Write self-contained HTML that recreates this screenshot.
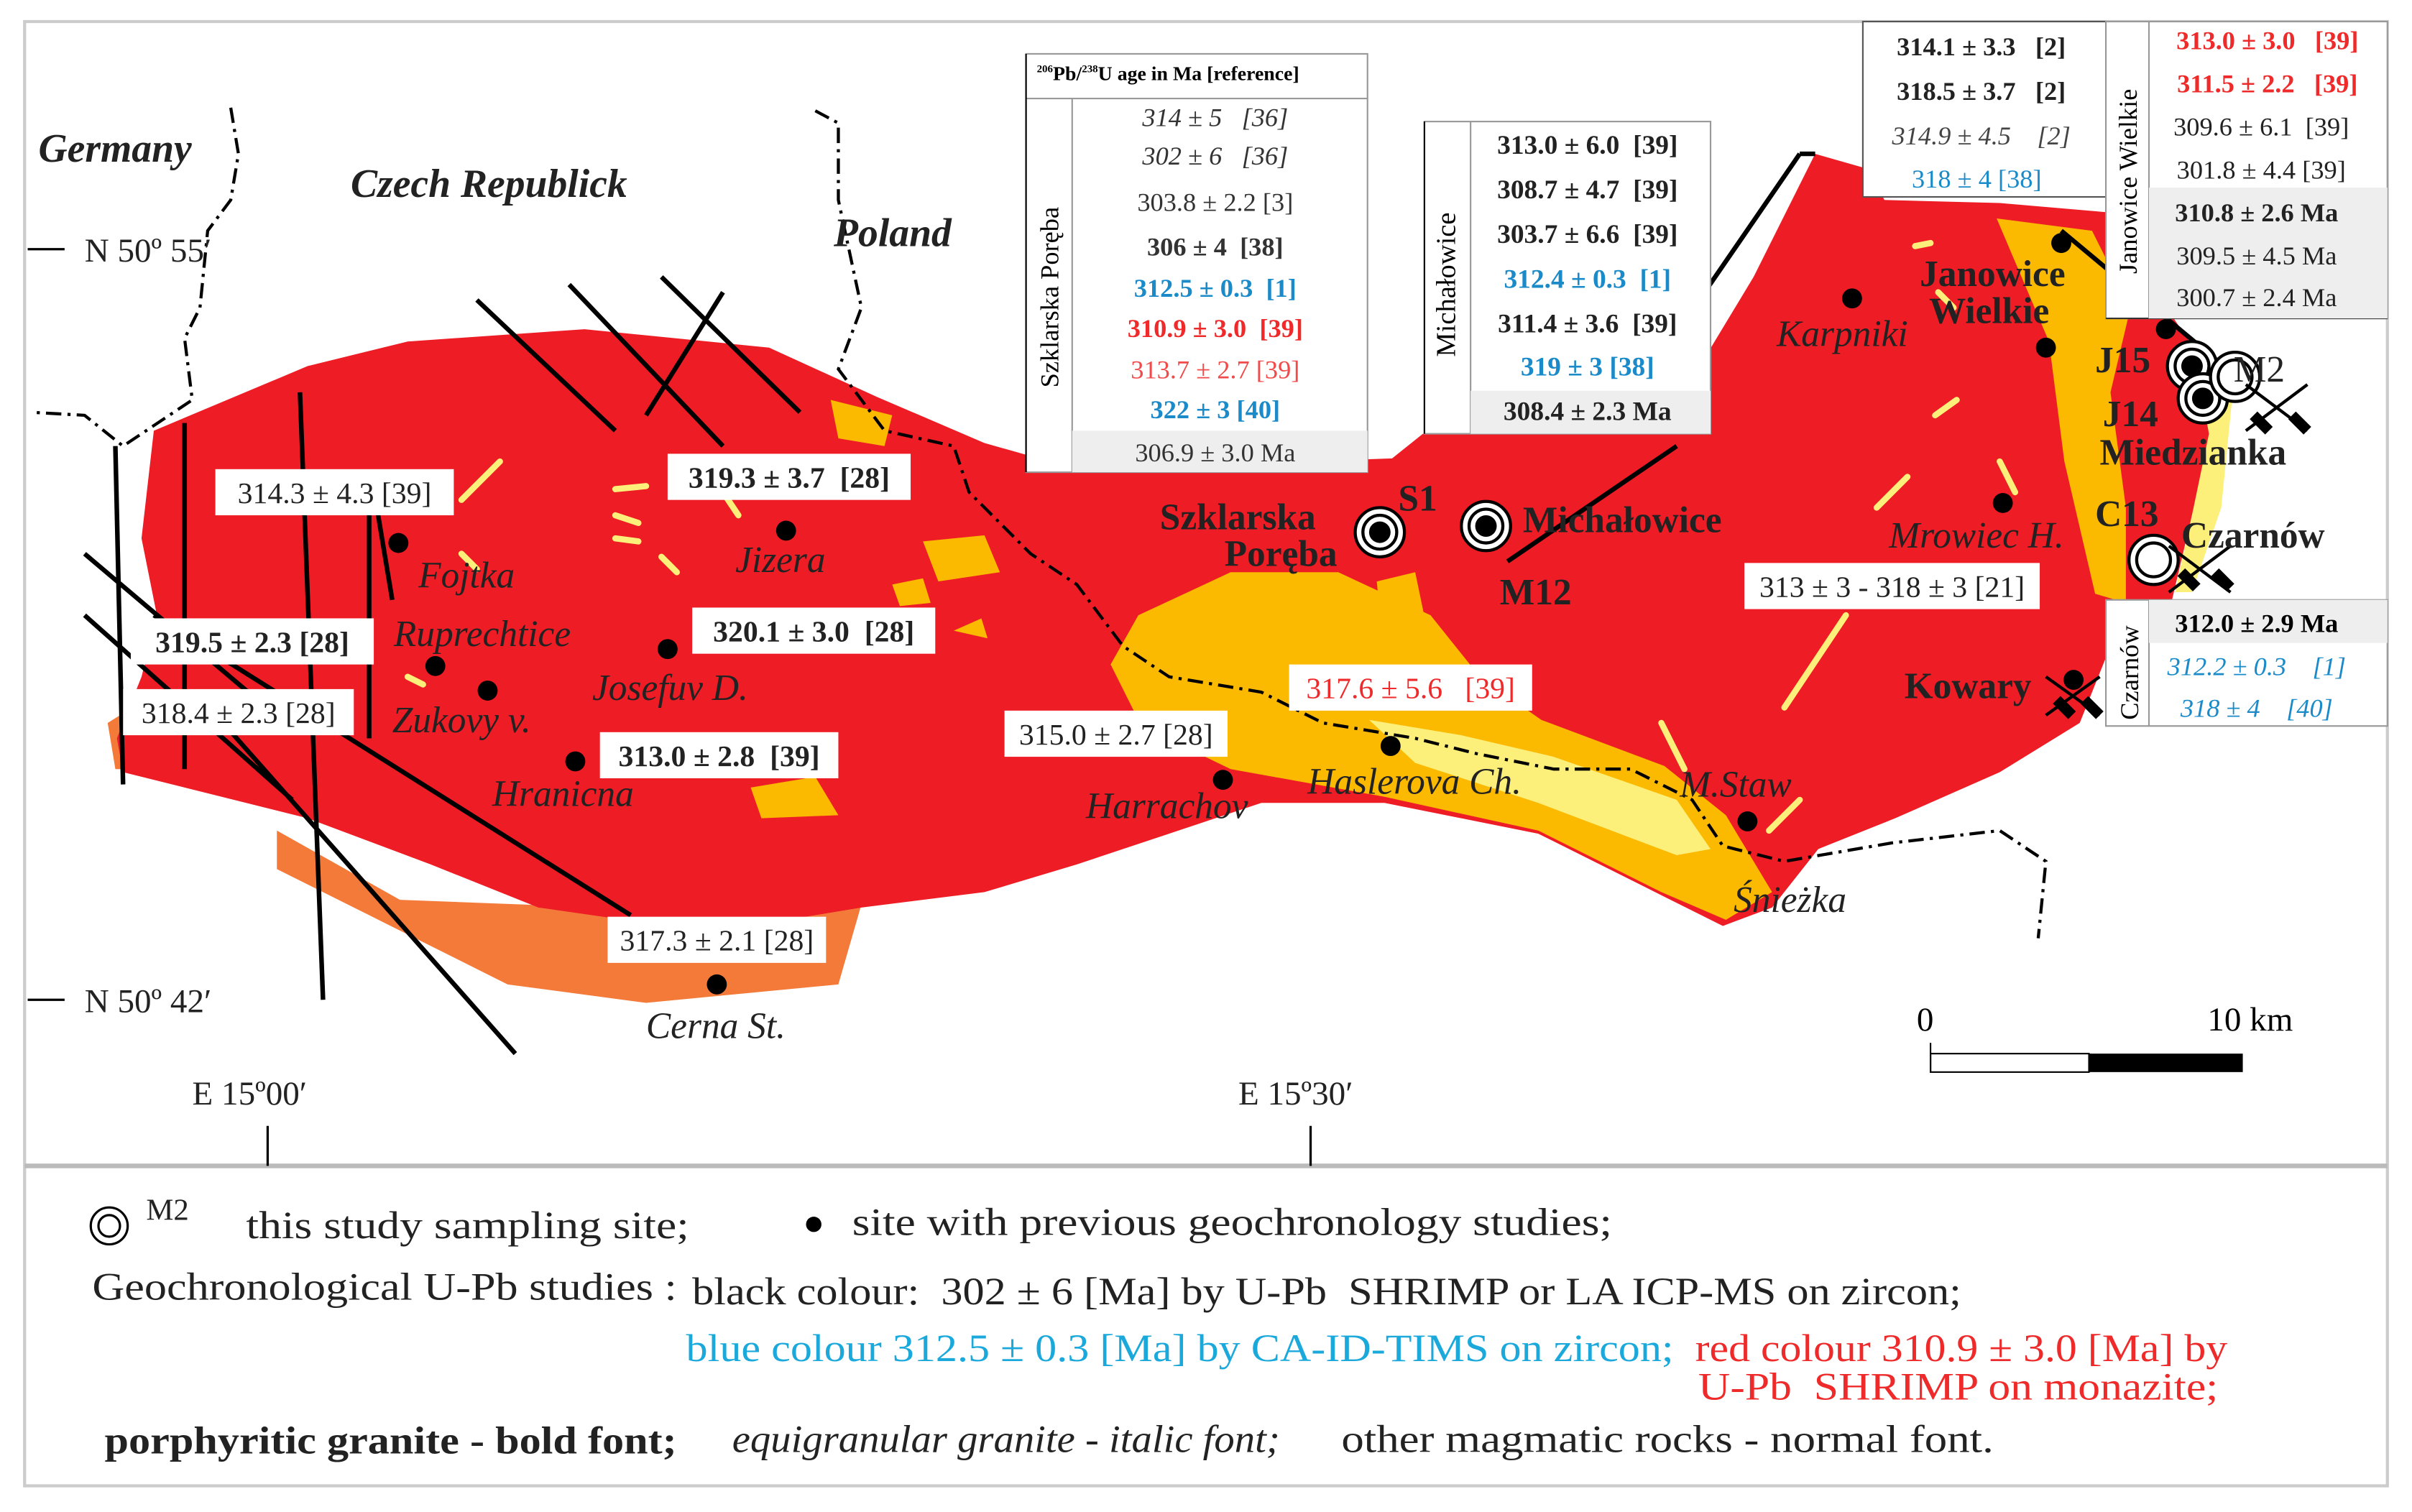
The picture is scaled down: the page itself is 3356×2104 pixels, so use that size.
<!DOCTYPE html>
<html><head><meta charset="utf-8"><style>
html,body{margin:0;padding:0;background:#fff}
svg{display:block}
text{font-family:"Liberation Serif","DejaVu Serif",serif;white-space:pre}
</style></head><body>
<svg id="map" width="3356" height="2104" viewBox="0 0 1568 983" xmlns="http://www.w3.org/2000/svg" xml:space="preserve" font-family="Liberation Serif, serif">
<rect x="0" y="0" width="1568" height="983" fill="#fff"/>
<rect x="16" y="14" width="1536" height="952" fill="none" stroke="#ccc" stroke-width="2"/>
<line x1="16" y1="758" x2="1552" y2="758" stroke="#bbb" stroke-width="3"/>

<g>
<path fill="#f47a3a" d="M180,540 L260,585 L390,590 L560,588 L545,640 L420,652 L330,640 L250,600 L180,565 Z"/>
<path fill="#f47a3a" d="M70,470 L110,445 L130,470 L110,500 L75,500 Z"/>
<path fill="#ee1c25" d="M100,280 L200,238 L265,222 L380,214 L500,226 L570,258 L640,288 L700,305 L780,305 L850,300 L905,298 L925,282 L990,274 L1060,258 L1105,238 L1140,180 L1180,100 L1215,110 L1225,130 L1300,132 L1370,138 L1405,195 L1430,232 L1442,282 L1425,335 L1412,390 L1372,420 L1352,470 L1300,502 L1232,532 L1182,552 L1152,590 L1120,602 L1080,582 L1000,542 L900,522 L820,522 L760,542 L700,562 L640,580 L560,590 L500,600 L420,600 L350,590 L280,562 L200,532 L120,512 L80,502 L76,480 L92,440 L102,400 L92,350 Z"/>
<path fill="#fbb900" d="M740,400 L800,372 L870,372 L930,400 L962,440 L1002,468 L1082,498 L1122,530 L1152,580 L1122,598 L1080,580 L1000,540 L900,518 L800,500 L742,472 L722,432 Z"/>
<path fill="#fdf07a" d="M890,468 L950,478 L1010,492 L1090,520 L1112,552 L1090,556 L1000,522 L920,496 Z"/>
<path fill="#fbb900" d="M1298,142 L1360,150 L1385,200 L1372,255 L1382,330 L1382,392 L1362,386 L1342,300 L1332,222 Z"/>
<path fill="#fdf07a" d="M1428,238 L1452,250 L1444,330 L1425,385 L1414,385 L1426,330 L1436,282 Z"/>
<path fill="#fbb900" d="M600,352 L640,348 L650,372 L610,378 Z M488,512 L530,505 L545,530 L495,532 Z M620,410 L638,402 L642,415 Z M540,260 L580,270 L575,290 L545,285 Z M580,380 L600,376 L605,392 L585,394 Z M895,378 L920,372 L930,420 L900,430 Z"/>
<g stroke="#fdf07a" stroke-width="4" stroke-linecap="round" fill="none">
<path d="M300,325 L325,300 M400,318 L420,316 M400,335 L415,340 M400,350 L415,352 M430,362 L440,372 M470,320 L480,335 M1245,160 L1255,158 M1260,190 L1270,200 M1258,270 L1272,260 M1300,300 L1310,320 M1220,330 L1240,310 M1160,460 L1200,400 M1150,540 L1170,520 M1080,470 L1095,500 M730,470 L760,490 M265,440 L275,445 M300,360 L310,370"/>
</g>
</g>

<g stroke="#000" fill="none">
<g stroke-width="3">
<path d="M75,290 L80,510 M120,275 L120,500 M195,255 L210,650 M55,360 L185,470 M55,400 L190,520 M145,470 L335,685 M100,400 L410,595 M245,330 L255,390 M310,195 L400,280 M370,185 L470,290 M430,180 L520,268 M470,190 L420,270 M240,330 L240,480 M980,365 L1090,290 M1060,260 L1170,100 M1170,100 L1180,100 M1340,150 L1460,250"/>
</g>
<g stroke-width="2" stroke-dasharray="10,4,2,4">
<path d="M150,70 L155,100 L150,130 L135,150 L130,200 L120,220 L125,260 L80,290 L55,270 L20,268"/>
<path d="M530,72 L545,80 L545,130 L560,200 L545,240 L575,280 L620,290 L630,320 L670,360 L700,380 L730,420 L760,440 L820,450 L860,470 L920,480 L960,490 L1010,500 L1060,500 L1100,520 L1120,550 L1160,560 L1230,548 L1300,540 L1330,560 L1325,610"/>
</g>
</g>

<g id="sites"></g>
<g id="study"></g>

<g stroke="#000" stroke-width="2">
<path d="M1460,250 L1500,280 M1500,250 L1460,280 M1410,355 L1450,385 M1450,355 L1410,385 M1330,440 L1365,465 M1365,440 L1330,465"/>
<path stroke-width="7" d="M1465,270 L1475,280 M1490,270 L1500,280 M1418,372 L1428,382 M1440,372 L1450,382 M1337,455 L1347,465 M1355,455 L1365,465"/>
</g>

<g font-size="24" fill="#222">
<text x="25" y="105" font-weight="bold" font-style="italic" font-size="26">Germany</text>
<text x="228" y="128" font-weight="bold" font-style="italic" font-size="26">Czech Republick</text>
<text x="542" y="160" font-weight="bold" font-style="italic" font-size="26">Poland</text>
<text x="272" y="382" font-style="italic">Fojtka</text>
<text x="256" y="420" font-style="italic">Ruprechtice</text>
<text x="255" y="476" font-style="italic">Zukovy v.</text>
<text x="320" y="524" font-style="italic">Hranicna</text>
<text x="385" y="455" font-style="italic">Josefuv D.</text>
<text x="478" y="372" font-style="italic">Jizera</text>
<text x="706" y="532" font-style="italic">Harrachov</text>
<text x="850" y="516" font-style="italic">Haslerova Ch.</text>
<text x="1092" y="518" font-style="italic">M.Staw</text>
<text x="1127" y="593" font-style="italic">Śnieżka</text>
<text x="420" y="675" font-style="italic">Cerna St.</text>
<text x="1155" y="225" font-style="italic">Karpniki</text>
<text x="1228" y="356" font-style="italic">Mrowiec H.</text>
<text x="754" y="344" font-weight="bold">Szklarska</text>
<text x="796" y="368" font-weight="bold">Poręba</text>
<text x="909" y="332" font-weight="bold">S1</text>
<text x="990" y="346" font-weight="bold">Michałowice</text>
<text x="975" y="393" font-weight="bold">M12</text>
<text x="1248" y="186" font-weight="bold">Janowice</text>
<text x="1254" y="210" font-weight="bold">Wielkie</text>
<text x="1362" y="242" font-weight="bold">J15</text>
<text x="1367" y="277" font-weight="bold">J14</text>
<text x="1365" y="302" font-weight="bold">Miedzianka</text>
<text x="1362" y="342" font-weight="bold">C13</text>
<text x="1418" y="356" font-weight="bold">Czarnów</text>
<text x="1238" y="454" font-weight="bold">Kowary</text>
<text x="1452" y="248">M2</text>
</g>

<g font-size="22" fill="#222">
<line x1="18" y1="162" x2="42" y2="162" stroke="#000" stroke-width="1.5"/>
<text x="55" y="170">N 50º 55′</text>
<line x1="18" y1="650" x2="42" y2="650" stroke="#000" stroke-width="1.5"/>
<text x="55" y="658">N 50º 42′</text>
<text x="125" y="718">E 15º00′</text>
<line x1="174" y1="732" x2="174" y2="758" stroke="#000" stroke-width="1.5"/>
<text x="805" y="718">E 15º30′</text>
<line x1="852" y1="732" x2="852" y2="758" stroke="#000" stroke-width="1.5"/>
</g>

<g>
<text x="1246" y="670" font-size="22">0</text>
<text x="1435" y="670" font-size="22">10 km</text>
<rect x="1255" y="685" width="103" height="12" fill="#fff" stroke="#000"/>
<rect x="1358" y="685" width="100" height="12" fill="#000"/>
<line x1="1255" y1="678" x2="1255" y2="697" stroke="#000"/>
</g>

<g id="labels" font-size="19.5"></g>

<g font-size="17">
<rect x="667" y="35" width="222" height="272" fill="#fff" stroke="#999"/>
<line x1="667" y1="64" x2="889" y2="64" stroke="#999"/>
<line x1="697" y1="64" x2="697" y2="307" stroke="#999"/>
<line x1="667" y1="35" x2="667" y2="307" stroke="#000"/>
<rect x="697" y="280" width="192" height="27" fill="#eee"/>
<text x="674" y="52" font-size="13" font-weight="bold"><tspan font-size="7" dy="-5">206</tspan><tspan dy="5">Pb/</tspan><tspan font-size="7" dy="-5">238</tspan><tspan dy="5">U age in Ma [reference]</tspan></text>
<text transform="translate(688,252) rotate(-90)" font-size="17">Szklarska Poręba</text>
<g text-anchor="middle" fill="#333">
<text x="790" y="82" font-style="italic">314 ± 5   [36]</text>
<text x="790" y="107" font-style="italic">302 ± 6   [36]</text>
<text x="790" y="137">303.8 ± 2.2 [3]</text>
<text x="790" y="166" font-weight="bold">306 ± 4  [38]</text>
<text x="790" y="193" font-weight="bold" fill="#1a8ac8">312.5 ± 0.3  [1]</text>
<text x="790" y="219" font-weight="bold" fill="#ee2a2a">310.9 ± 3.0  [39]</text>
<text x="790" y="246" fill="#f04a4a">313.7 ± 2.7 [39]</text>
<text x="790" y="272" font-weight="bold" fill="#1a8ac8">322 ± 3 [40]</text>
<text x="790" y="300">306.9 ± 3.0 Ma</text>
</g>
</g>

<g font-size="17.5">
<rect x="926" y="79" width="186" height="203" fill="#fff" stroke="#999"/>
<line x1="956" y1="79" x2="956" y2="282" stroke="#999"/>
<line x1="926" y1="79" x2="926" y2="282" stroke="#000"/>
<rect x="956" y="254" width="156" height="28" fill="#eee"/>
<text transform="translate(946,232) rotate(-90)" font-size="18">Michałowice</text>
<g text-anchor="middle" fill="#222">
<text x="1032" y="100" font-weight="bold">313.0 ± 6.0  [39]</text>
<text x="1032" y="129" font-weight="bold">308.7 ± 4.7  [39]</text>
<text x="1032" y="158" font-weight="bold">303.7 ± 6.6  [39]</text>
<text x="1032" y="187" font-weight="bold" fill="#1a8ac8">312.4 ± 0.3  [1]</text>
<text x="1032" y="216" font-weight="bold">311.4 ± 3.6  [39]</text>
<text x="1032" y="244" font-weight="bold" fill="#1a8ac8">319 ± 3 [38]</text>
<text x="1032" y="273" font-weight="bold">308.4 ± 2.3 Ma</text>
</g>
</g>

<g font-size="17">
<rect x="1211" y="14" width="158" height="114" fill="#fff" stroke="#555"/>
<g text-anchor="middle" fill="#222">
<text x="1288" y="36" font-weight="bold">314.1 ± 3.3   [2]</text>
<text x="1288" y="65" font-weight="bold">318.5 ± 3.7   [2]</text>
<text x="1288" y="94" font-style="italic" fill="#444">314.9 ± 4.5    [2]</text>
<text x="1285" y="122" fill="#1a8ac8">318 ± 4 [38]</text>
</g>
<rect x="1369" y="14" width="183" height="193" fill="#fff" stroke="#999"/>
<line x1="1369" y1="207" x2="1552" y2="207" stroke="#333"/>
<line x1="1397" y1="14" x2="1397" y2="207" stroke="#999"/>
<rect x="1397" y="122" width="155" height="85" fill="#eee"/>
<text transform="translate(1389,178) rotate(-90)" font-size="17">Janowice Wielkie</text>
<g text-anchor="middle" fill="#222">
<text x="1474" y="32" font-weight="bold" fill="#ee2a2a">313.0 ± 3.0   [39]</text>
<text x="1474" y="60" font-weight="bold" fill="#ee2a2a">311.5 ± 2.2   [39]</text>
<text x="1470" y="88">309.6 ± 6.1  [39]</text>
<text x="1470" y="116">301.8 ± 4.4 [39]</text>
<text x="1467" y="144" font-weight="bold">310.8 ± 2.6 Ma</text>
<text x="1467" y="172">309.5 ± 4.5 Ma</text>
<text x="1467" y="199">300.7 ± 2.4 Ma</text>
</g>
<rect x="1369" y="390" width="183" height="82" fill="#fff" stroke="#999"/>
<line x1="1397" y1="390" x2="1397" y2="472" stroke="#999"/>
<rect x="1397" y="390" width="155" height="28" fill="#eee"/>
<text transform="translate(1390,468) rotate(-90)" font-size="17">Czarnów</text>
<g text-anchor="middle">
<text x="1467" y="411" font-weight="bold">312.0 ± 2.9 Ma</text>
<text x="1467" y="439" font-style="italic" fill="#1a8ac8">312.2 ± 0.3    [1]</text>
<text x="1467" y="466" font-style="italic" fill="#1a8ac8">318 ± 4    [40]</text>
</g>
</g>

<g font-size="25" fill="#222">
<circle cx="71" cy="797" r="12" fill="none" stroke="#000" stroke-width="1.5"/>
<circle cx="71" cy="797" r="7" fill="none" stroke="#000" stroke-width="1.5"/>
<text x="95" y="793" font-size="20">M2</text>
<text x="160" y="805" textLength="288" lengthAdjust="spacingAndGlyphs">this study sampling site;</text>
<circle cx="529" cy="796" r="5" fill="#000"/>
<text x="554" y="803" textLength="494" lengthAdjust="spacingAndGlyphs">site with previous geochronology studies;</text>
<text x="60" y="845" textLength="380" lengthAdjust="spacingAndGlyphs">Geochronological U-Pb studies :</text>
<text x="450" y="848" textLength="825" lengthAdjust="spacingAndGlyphs">black colour:  302 ± 6 [Ma] by U-Pb  SHRIMP or LA ICP-MS on zircon;</text>
<text x="446" y="885" fill="#1ba9dc" textLength="642" lengthAdjust="spacingAndGlyphs">blue colour 312.5 ± 0.3 [Ma] by CA-ID-TIMS on zircon;</text>
<text x="1102" y="885" fill="#ee2a2a" textLength="346" lengthAdjust="spacingAndGlyphs">red colour 310.9 ± 3.0 [Ma] by</text>
<text x="1104" y="910" fill="#ee2a2a" textLength="338" lengthAdjust="spacingAndGlyphs">U-Pb  SHRIMP on monazite;</text>
<text x="68" y="945" font-weight="bold" textLength="372" lengthAdjust="spacingAndGlyphs">porphyritic granite - bold font;</text>
<text x="476" y="944" font-style="italic" textLength="356" lengthAdjust="spacingAndGlyphs">equigranular granite - italic font;</text>
<text x="872" y="944" textLength="424" lengthAdjust="spacingAndGlyphs">other magmatic rocks - normal font.</text>
</g>
</svg>
<script>
const siteNames=['Fojtka','Ruprechtice','Zukovy','Hranicna','Josefuv','Jizera','Harrachov','Haslerova','MStaw','CernaSt','Karpniki','Janowice','JanowiceN','MrowiecH','Kowary','J15top'];
const siteX=[259,283,317,374,434,511,795,904,1136,466,1204,1330,1340,1302,1348,1408];
const siteY=[353,433,449,495,422,345,507,485,534,640,194,226,158,327,442,214];
const studyNames=['S1','M12','J15','J14','M2','C13'];
const studyX=[897,966,1425,1432,1453,1400];
const studyY=[346,342,238,259,245,364];
const studyFilled=[1,1,1,1,0,0];
const labelText=['314.3 ± 4.3 [39]','319.3 ± 3.7  [28]','319.5 ± 2.3 [28]','320.1 ± 3.0  [28]','318.4 ± 2.3 [28]','313.0 ± 2.8  [39]','315.0 ± 2.7 [28]','317.6 ± 5.6   [39]','317.3 ± 2.1 [28]','313 ± 3 - 318 ± 3 [21]'];
const labelX=[140,434,85,450,80,390,653,838,395,1134];
const labelY=[305,295,402,395,448,476,462,432,596,366];
const labelW=[155,158,158,158,150,155,145,158,142,192];
const labelBold=[0,1,1,1,0,1,0,0,0,0];
const labelRed=[0,0,0,0,0,0,0,1,0,0];
const NS='http://www.w3.org/2000/svg';
const sites=document.getElementById('sites');
siteX.forEach((x,i)=>{const c=document.createElementNS(NS,'circle');
c.setAttribute('cx',x);c.setAttribute('cy',siteY[i]);c.setAttribute('r',6.5);c.setAttribute('fill','#000');


sites.appendChild(c);});
const study=document.getElementById('study');
studyX.forEach((x,i)=>{const g=document.createElementNS(NS,'g');


[[16,'#fff'],[11,'#fff']].forEach(([r,f])=>{const c=document.createElementNS(NS,'circle');c.setAttribute('cx',x);c.setAttribute('cy',studyY[i]);c.setAttribute('r',r);c.setAttribute('fill',f);c.setAttribute('stroke','#000');c.setAttribute('stroke-width','2');g.appendChild(c);});
if(studyFilled[i]){const c=document.createElementNS(NS,'circle');c.setAttribute('cx',x);c.setAttribute('cy',studyY[i]);c.setAttribute('r',7);c.setAttribute('fill','#000');g.appendChild(c);}
study.appendChild(g);});
const labels=document.getElementById('labels');
labelText.forEach((t,i)=>{const g=document.createElementNS(NS,'g');


const r=document.createElementNS(NS,'rect');r.setAttribute('x',labelX[i]);r.setAttribute('y',labelY[i]);r.setAttribute('width',labelW[i]);r.setAttribute('height',30);r.setAttribute('fill','#fff');g.appendChild(r);
const tx=document.createElementNS(NS,'text');tx.setAttribute('x',labelX[i]+labelW[i]/2);tx.setAttribute('y',labelY[i]+22);tx.setAttribute('text-anchor','middle');
tx.setAttribute('fill',labelRed[i]?'#ee2a2a':'#222');if(labelBold[i])tx.setAttribute('font-weight','bold');tx.textContent=t;g.appendChild(tx);
labels.appendChild(g);});
</script>
</body></html>
